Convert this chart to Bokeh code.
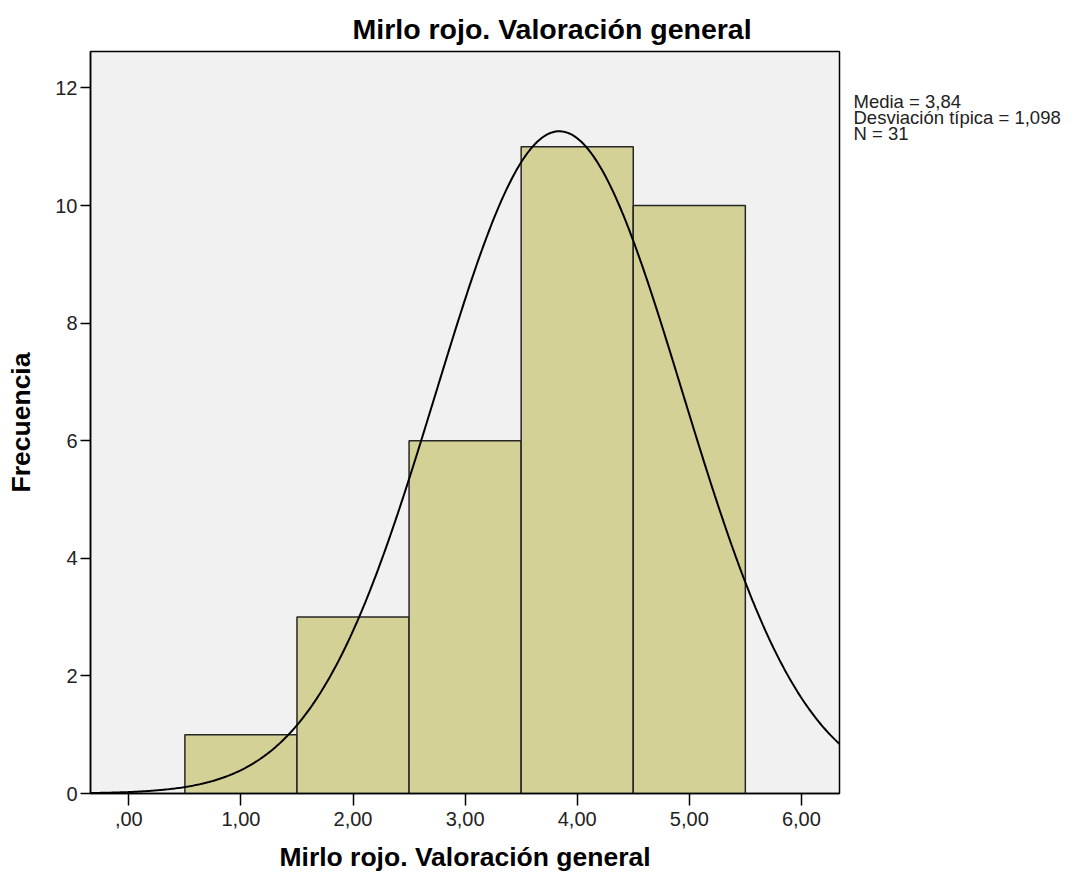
import numpy as np
from bokeh.plotting import figure
from bokeh.layouts import row
from bokeh.models import Range1d, FixedTicker
from bokeh.core.properties import value
from bokeh.embed import file_html
from bokeh.resources import INLINE

# ---- data ----
title_text = "Mirlo rojo. Valoración general"
x_label = "Mirlo rojo. Valoración general"
y_label = "Frecuencia"
bin_centers = [1.0, 2.0, 3.0, 4.0, 5.0]
counts = [1, 3, 6, 11, 10]
bin_width = 1.0
mean = 3.84
std_dev = 1.098
n_obs = 31
x_ticks = [0, 1, 2, 3, 4, 5, 6]
x_tick_labels = [",00", "1,00", "2,00", "3,00", "4,00", "5,00", "6,00"]
y_ticks = [0, 2, 4, 6, 8, 10, 12]
stats_lines = ["Media = 3,84", "Desviación típica = 1,098", "N = 31"]

# ---- layout ----
X_MIN, X_MAX = -0.342, 6.34
Y_MIN, Y_MAX = 0.0, 12.62
FONT = "Liberation Sans"
H = 875
SIDE_W = 219
TOP, BOTTOM = 51, 82

p = figure(width=853, height=H,
           x_range=Range1d(X_MIN, X_MAX), y_range=Range1d(Y_MIN, Y_MAX),
           output_backend="svg", toolbar_location=None,
           min_border_left=90, min_border_right=14,
           min_border_top=TOP, min_border_bottom=BOTTOM)

p.background_fill_color = "#f1f1f1"
p.border_fill_color = "white"
p.outline_line_color = "black"
p.outline_line_width = 1.5
p.xgrid.visible = False
p.ygrid.visible = False

# title
p.title.text = title_text
p.title.align = "left"
p.title.offset = 262
p.title.standoff = 14
p.title.text_font = FONT
p.title.text_font_size = "28.5px"
p.title.text_font_style = "bold"
p.title.text_color = "black"

# histogram bars
p.vbar(x=bin_centers, top=counts, width=bin_width, bottom=0,
       fill_color="#d4d196", line_color="#262626", line_width=1.5)

# fitted normal curve from the reported statistics
xs = np.linspace(X_MIN, X_MAX, 500)
ys = n_obs * bin_width * np.exp(-0.5 * ((xs - mean) / std_dev) ** 2) / (std_dev * np.sqrt(2 * np.pi))
p.line(xs, ys, line_color="black", line_width=2)

# axes
p.xaxis.ticker = FixedTicker(ticks=x_ticks)
p.xaxis.major_label_overrides = {t: l for t, l in zip(x_ticks, x_tick_labels)}
p.yaxis.ticker = FixedTicker(ticks=y_ticks)
for ax in (p.xaxis, p.yaxis):
    ax.axis_line_color = "black"
    ax.axis_line_width = 1.5
    ax.major_tick_line_color = "black"
    ax.major_tick_line_width = 1.5
    ax.major_tick_in = 0
    ax.minor_tick_line_color = None
    ax.major_label_text_font = FONT
    ax.major_label_text_font_size = "20px"
    ax.major_label_text_color = "#222222"
    ax.axis_label_text_font = FONT
    ax.axis_label_text_font_size = "26.5px"
    ax.axis_label_text_font_style = "bold"
    ax.axis_label_text_color = "black"
p.xaxis.axis_label = x_label
p.yaxis.axis_label = y_label
p.xaxis.major_tick_out = 12
p.yaxis.major_tick_out = 10
p.xaxis.major_label_standoff = 6
p.yaxis.major_label_standoff = 3
p.xaxis.axis_label_standoff = 13
p.yaxis.axis_label_standoff = 16

# statistics text panel on the right; its frame lines up with the main frame,
# y range expressed in page pixels (downwards)
side = figure(width=SIDE_W, height=H,
              x_range=Range1d(0, SIDE_W), y_range=Range1d(H - BOTTOM, TOP),
              x_axis_location=None, y_axis_location=None,
              output_backend="svg", toolbar_location=None,
              min_border_left=0, min_border_right=0,
              min_border_top=TOP, min_border_bottom=BOTTOM,
              outline_line_color=None)
side.grid.visible = False
side.background_fill_color = "white"
side.border_fill_color = "white"
side.text(x=[0, 0, 0], y=[101, 117, 133], text=stats_lines,
          text_align="left", text_baseline="alphabetic",
          text_font=value(FONT), text_font_size="18.5px", text_color="#222222")

layout = row(p, side, spacing=0)
open("out.html", "w").write(file_html(layout, INLINE))
